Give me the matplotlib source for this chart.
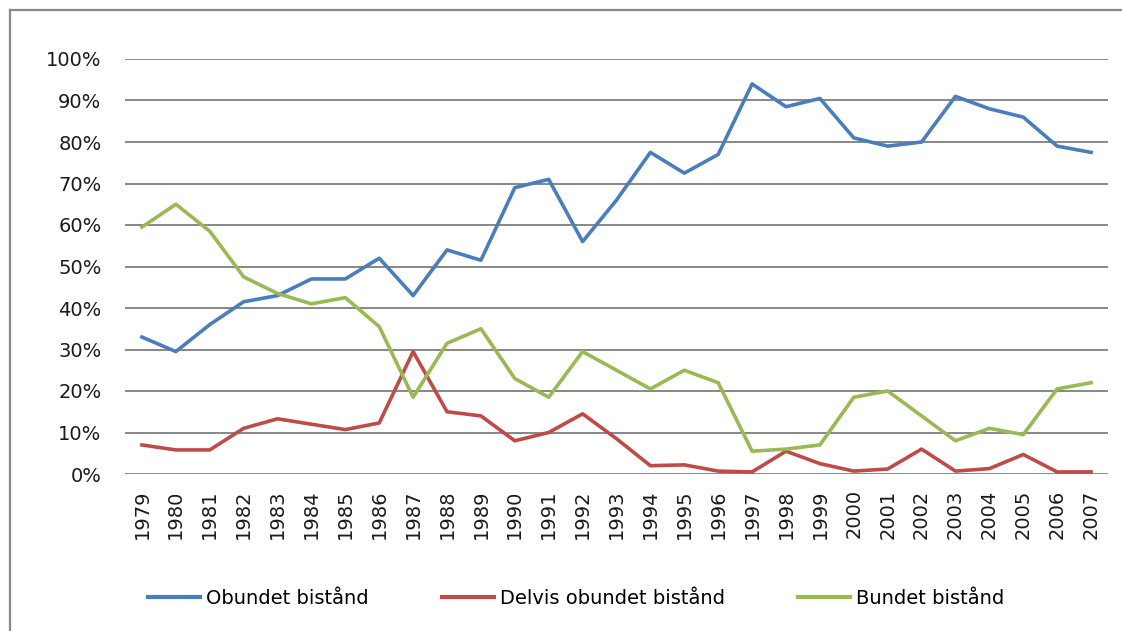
import matplotlib
matplotlib.use("Agg")
import matplotlib.pyplot as plt
from matplotlib.lines import Line2D
from matplotlib.ticker import FuncFormatter

# data (percent)
years = [str(y) for y in range(1979, 2008)]
obundet = [33, 29.5, 36, 41.5, 43, 47, 47, 52, 43, 54, 51.5, 69, 71, 56, 66,
           77.5, 72.5, 77, 94, 88.5, 90.5, 81, 79, 80, 91, 88, 86, 79, 77.5]
delvis = [7, 5.8, 5.8, 11, 13.3, 12, 10.7, 12.3, 29.5, 15, 14, 8, 10, 14.5, 8.5,
          2, 2.2, 0.7, 0.5, 5.5, 2.5, 0.7, 1.2, 6, 0.7, 1.3, 4.7, 0.5, 0.5]
bundet = [59.5, 65, 58.5, 47.5, 43.5, 41, 42.5, 35.5, 18.5, 31.5, 35, 23, 18.5,
          29.5, 25, 20.5, 25, 22, 5.5, 6, 7, 18.5, 20, 14, 8, 11, 9.5, 20.5, 22]

series = [("Obundet bistånd", obundet, "#4A7EBB"),
          ("Delvis obundet bistånd", delvis, "#BE4B48"),
          ("Bundet bistånd", bundet, "#98B954")]

plt.rcParams['font.family'] = ['DejaVu Sans']

W, H = 1122, 631
fig = plt.figure(figsize=(W / 100, H / 100), dpi=100)
ax = fig.add_axes([125 / W, 1 - 474 / H, (1108 - 125) / W, (474 - 59) / H])

x = list(range(len(years)))
for name, vals, col in series:
    ax.plot(x, vals, color=col, lw=2.6, label=name)

ax.set_xlim(-0.5, len(years) - 0.5)
ax.set_ylim(0, 100)
ax.set_yticks(range(0, 101, 10))
ax.yaxis.set_major_formatter(FuncFormatter(lambda v, p: "%d%%" % v))
ax.set_xticks(x)
ax.set_xticklabels(years, rotation=90)
ax.grid(axis='y', color='#878787', lw=1.4)
ax.set_axisbelow(True)
for s in ax.spines.values():
    s.set_visible(False)
ax.tick_params(axis='both', length=0, labelsize=14, colors='#1a1a1a')
ax.tick_params(axis='y', pad=17)
ax.tick_params(axis='x', pad=11)

leg = fig.legend(loc='center', bbox_to_anchor=(576 / W, 1 - 598 / H), ncol=3,
                 frameon=False, fontsize=14, handlelength=2.7, columnspacing=3.75,
                 handletextpad=0.3)
for h in leg.get_lines():
    h.set_linewidth(3)

# chart frame (left and top edges visible)
fig.lines.append(Line2D([10 / W, 10 / W], [0, 1 - 10 / H], transform=fig.transFigure,
                        color='#898989', lw=1.6))
fig.lines.append(Line2D([10 / W, 1], [1 - 10 / H, 1 - 10 / H], transform=fig.transFigure,
                        color='#898989', lw=1.6))

fig.savefig("out.png", dpi=100)
